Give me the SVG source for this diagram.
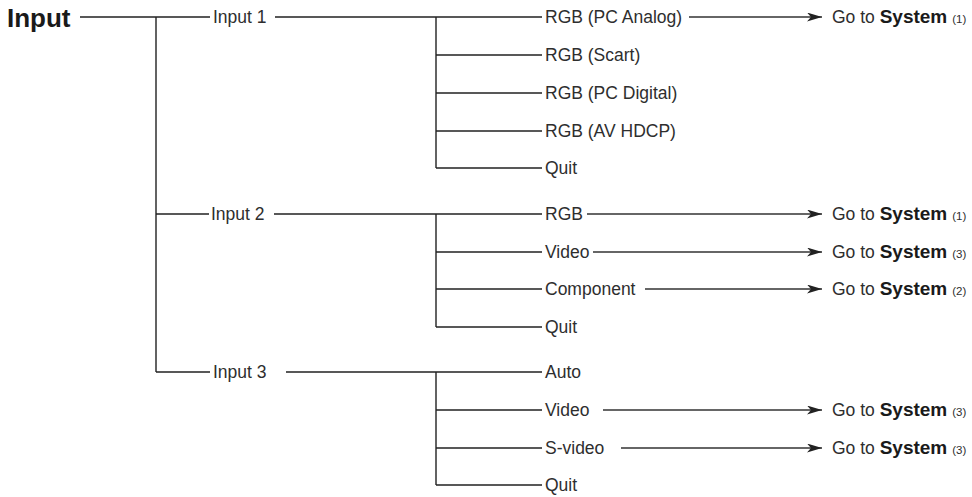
<svg xmlns="http://www.w3.org/2000/svg" width="972" height="497" viewBox="0 0 972 497">
<defs>
<marker id="ah" markerWidth="16" markerHeight="10" refX="15" refY="4.5" orient="auto" markerUnits="userSpaceOnUse">
<path d="M0,0 L15,4.5 L0,9 L4,4.5 Z" fill="#222"/>
</marker>
<style>
.t{font-family:"Liberation Sans",Arial,sans-serif;font-size:17.5px;fill:#2e2e2e}
.b{font-weight:bold;font-size:19px;fill:#1a1a1a}
.s{font-size:11.5px}
.h{font-family:"Liberation Sans",Arial,sans-serif;font-size:26px;font-weight:bold;fill:#1a1a1a}
.l{stroke:#222;stroke-width:1.4;fill:none}
.a{stroke:#333;stroke-width:1.4;fill:none;marker-end:url(#ah)}
</style>
</defs>
<rect width="972" height="497" fill="#fff"/>
<g id="connectors">
<path class="l" d="M80,17H210M156,17V372M275,17H542M436,17V168M436,55H542M436,93H542M436,131H542M436,168H542"/>
<path class="l" d="M156,214H209M274,214H542M436,214V327M436,252H542M436,289H542M436,327H542"/>
<path class="l" d="M156,372H210M286,372H542M436,372V485M436,410H542M436,448H542M436,485H542"/>
<line class="a" x1="689" y1="17" x2="822" y2="17"/>
<line class="a" x1="587" y1="214" x2="822" y2="214"/>
<line class="a" x1="593" y1="252" x2="822" y2="252"/>
<line class="a" x1="645" y1="289" x2="822" y2="289"/>
<line class="a" x1="603" y1="410" x2="822" y2="410"/>
<line class="a" x1="621" y1="448" x2="822" y2="448"/>
</g>
<g id="input"><text class="h" x="7" y="27">Input</text></g>
<g id="input1"><text class="t" x="213" y="23">Input 1</text></g>
<g id="input2"><text class="t" x="211" y="220">Input 2</text></g>
<g id="input3"><text class="t" x="213" y="378">Input 3</text></g>
<g id="i1-pcanalog"><text class="t" x="545" y="23">RGB (PC Analog)</text></g>
<g id="i1-scart"><text class="t" x="545" y="61">RGB (Scart)</text></g>
<g id="i1-pcdigital"><text class="t" x="545" y="99">RGB (PC Digital)</text></g>
<g id="i1-avhdcp"><text class="t" x="545" y="137">RGB (AV HDCP)</text></g>
<g id="i1-quit"><text class="t" x="545" y="174">Quit</text></g>
<g id="i2-rgb"><text class="t" x="545" y="220">RGB</text></g>
<g id="i2-video"><text class="t" x="545" y="258">Video</text></g>
<g id="i2-component"><text class="t" x="545" y="295">Component</text></g>
<g id="i2-quit"><text class="t" x="545" y="333">Quit</text></g>
<g id="i3-auto"><text class="t" x="545" y="378">Auto</text></g>
<g id="i3-video"><text class="t" x="545" y="416">Video</text></g>
<g id="i3-svideo"><text class="t" x="545" y="454">S-video</text></g>
<g id="i3-quit"><text class="t" x="545" y="491">Quit</text></g>
<g id="sys1a"><text class="t" x="832" y="23">Go to <tspan class="b">System</tspan> <tspan class="s">(1)</tspan></text></g>
<g id="sys1b"><text class="t" x="832" y="220">Go to <tspan class="b">System</tspan> <tspan class="s">(1)</tspan></text></g>
<g id="sys3a"><text class="t" x="832" y="258">Go to <tspan class="b">System</tspan> <tspan class="s">(3)</tspan></text></g>
<g id="sys2"><text class="t" x="832" y="295">Go to <tspan class="b">System</tspan> <tspan class="s">(2)</tspan></text></g>
<g id="sys3b"><text class="t" x="832" y="416">Go to <tspan class="b">System</tspan> <tspan class="s">(3)</tspan></text></g>
<g id="sys3c"><text class="t" x="832" y="454">Go to <tspan class="b">System</tspan> <tspan class="s">(3)</tspan></text></g>
</svg>
